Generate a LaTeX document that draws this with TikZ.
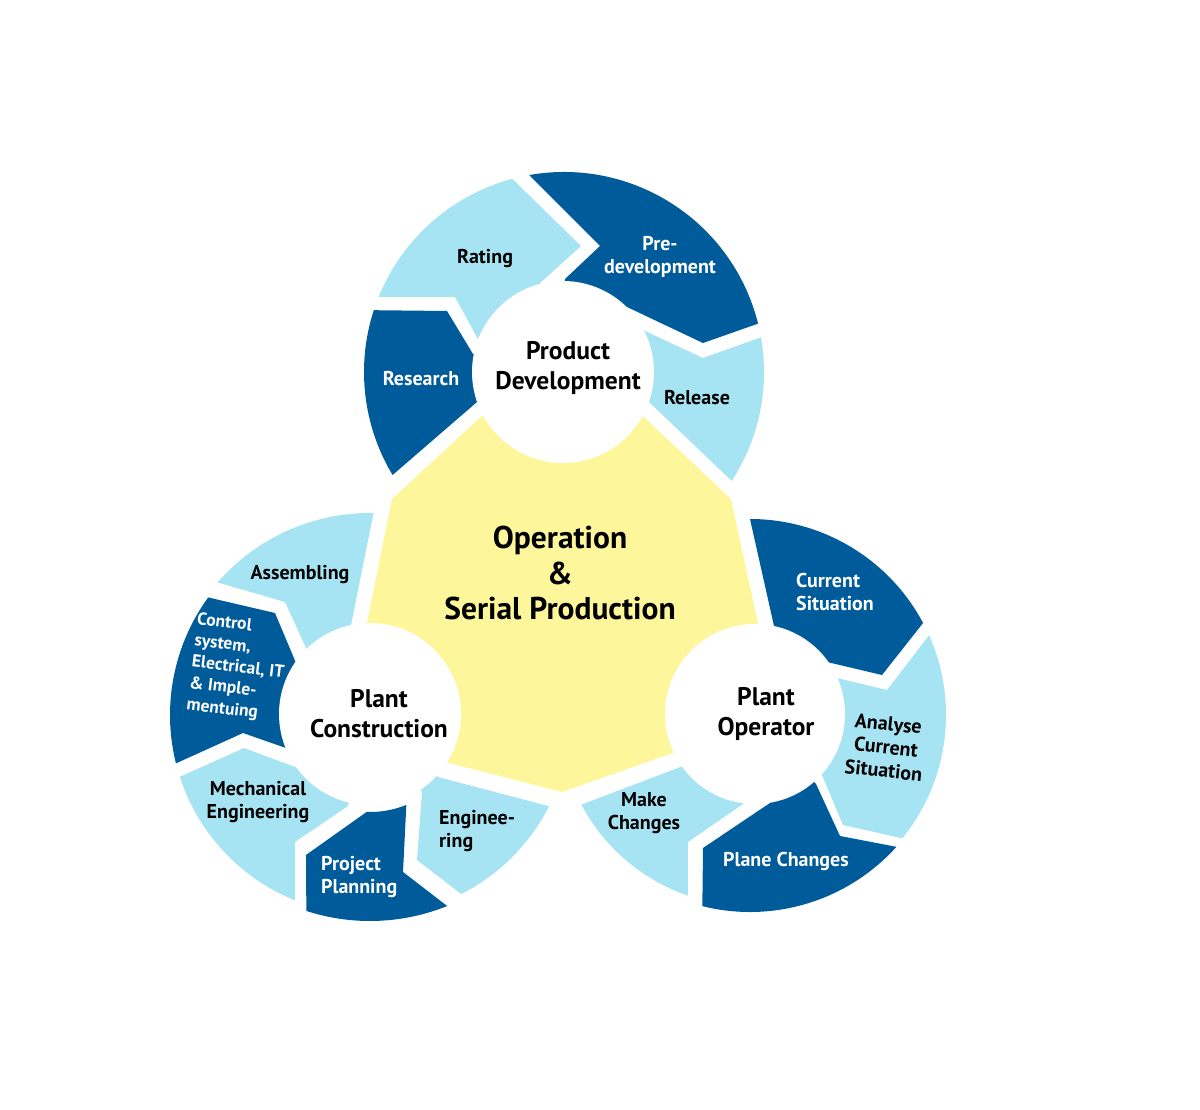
\documentclass[tikz,border=0pt]{standalone}
\usepackage{fontspec}
\setmainfont{PT Sans}
\definecolor{deepblue}{HTML}{005B9B}
\definecolor{paleblue}{HTML}{A7E4F3}
\definecolor{paleyellow}{HTML}{FDF69B}

\begin{document}
\begin{tikzpicture}[x=1pt, y=1pt, yscale=-1,
		dark/.style={fill=deepblue},
		light/.style={fill=paleblue},
		hub/.style={circle, fill=white, inner sep=0pt, minimum size=182pt},
		hubtext/.style={font=\bfseries\fontsize{25.5}{30}\selectfont, align=center, inner sep=0pt},
		maintext/.style={font=\bfseries\fontsize{31.5}{35.5}\selectfont, align=center, inner sep=0pt},
		darktext/.style={font=\bfseries\fontsize{20}{23.5}\selectfont, text=white, align=center, inner sep=0pt},
		lighttext/.style={font=\bfseries\fontsize{20}{23.5}\selectfont, align=center, inner sep=0pt}]
	\useasboundingbox (0,0) rectangle (1200,1110);
	\begin{scope}[shift={(564,372)}]
		\fill[dark]	(149:200) arc[start angle=149, end angle=198, radius=200] -- (-117,-61) -- (-91,-18) -- (0,0) -- (-87,30) -- cycle;
		\fill[light]	(202:200) arc[start angle=202, end angle=255, radius=200] -- (17,-126) -- (-24,-89) -- (0,0) -- (-86,-33) -- (-109,-75) -- cycle;
		\fill[dark]	(260:200) arc[start angle=260, end angle=346, radius=200] -- (139,-29) -- (63,-65) -- (0,0) -- (1,-93) -- (36,-126) -- cycle;
		\fill[light]	(350:200) arc[start angle=350, end angle=393, radius=200] -- (86,31) -- (0,0) -- (79,-42) -- (139,-14) -- cycle;
	\end{scope}
	\begin{scope}[shift={(370,715)}]
		\fill[light]	(221:202) arc[start angle=221, end angle=271, radius=202] -- (-19,-90) -- (0,0) -- (-63,-65) -- (-85,-113) -- cycle;
		\fill[dark]	(166:200) arc[start angle=166, end angle=216, radius=200] -- (-95,-102) -- (-74,-52) -- (0,0) -- (-84,33) -- (-127,18) -- cycle;
		\fill[light]	(112:200) arc[start angle=112, end angle=162, radius=200] -- (-126,33) -- (-75,52) -- (0,0) -- (-22,91) -- (-75,127) -- cycle;
		\fill[dark]	(68:206) arc[start angle=68, end angle=108, radius=206] -- (-64,140) -- (92:97) arc[start angle=92, end angle=68, radius=97] -- (33,157) -- cycle;
		\fill[light]	(27:201) arc[start angle=27, end angle=63, radius=201] -- (47,145) -- (52,77) -- (0,0) -- (68,62) -- cycle;
	\end{scope}
	\begin{scope}[shift={(750,715)}]
		\fill[dark]	(270:196) arc[start angle=270, end angle=332, radius=196] -- (132,-40) -- (77,-53) -- (0,0) -- (24,-89) -- cycle;
		\fill[light]	(336:196) arc[start angle=336, end angle=399, radius=196] -- (93,110) -- (72,60) -- (0,0) -- (87,-37) -- (137,-25) -- cycle;
		\fill[dark]	(42:197) arc[start angle=42, end angle=104, radius=197] -- (-47,133) -- (20,88) -- (0,0) -- (66,69) -- (90,121) -- cycle;
		\fill[light]	(109:191) arc[start angle=109, end angle=152, radius=191] -- (-67,51) -- (0,0) -- (-7,89) -- (-62,127) -- cycle;
	\end{scope}
	\fill[paleyellow]	(392,499) -- (563,341) -- (731,499) -- (778,716) -- (562,792) -- (344,736) -- cycle;
	\node[hub]	(PD)	at (563,372)	{};
	\node[hub]	(PC)	at (370,714)	{};
	\node[hub, minimum size=180pt]	(PO)	at (755,714)	{};
	\node[hubtext]	(PDt)	at (568,368)	{Product\\Development};
	\node[hubtext]	(PCt)	at (379,714)	{Plant\\Construction};
	\node[hubtext]	(POt)	at (766,714)	{Plant\\Operator};
	\node[maintext]	(OSP)	at (560,573)	{Operation\\\&\\Serial Production};
	\node[lighttext]	(Rat)	at (485,259)	{Rating};
	\node[darktext]	(Pre)	at (660,257)	{Pre-\\development};
	\node[darktext]	(Res)	at (421,379)	{Research};
	\node[lighttext]	(Rel)	at (697,398)	{Release};
	\node[lighttext]	(Asm)	at (300,575)	{Assembling};
	\node[darktext, align=left, rotate=-7, font=\bfseries\fontsize{17.5}{21.5}\selectfont]	(Ctl)	at (238,668)	{Control\\system,\\Electrical, IT\\\& Imple-\\mentuing};
	\node[lighttext]	(Mec)	at (258,802)	{Mechanical\\Engineering};
	\node[darktext, align=left, anchor=west]	(Prj)	at (321,877)	{Project\\Planning};
	\node[lighttext, align=left, anchor=west]	(Eng)	at (439,831)	{Enginee-\\ring};
	\node[darktext, align=left, anchor=west]	(Cur)	at (796,592)	{Current\\Situation};
	\node[lighttext, rotate=-6]	(Ana)	at (886,747)	{Analyse\\Current\\Situation};
	\node[darktext]	(Pln)	at (786,861)	{Plane Changes};
	\node[lighttext]	(Mak)	at (644,813)	{Make\\Changes};
\end{tikzpicture}
\end{document}
